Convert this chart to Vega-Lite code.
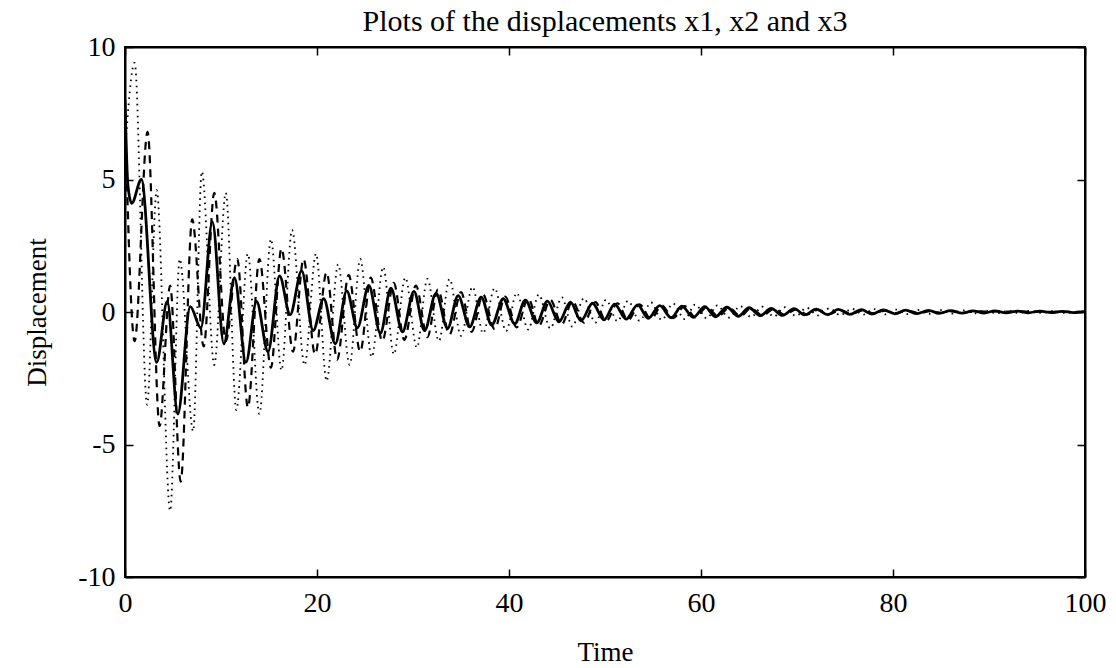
{
  "$schema": "https://vega.github.io/schema/vega-lite/v6.json",
  "width": 960,
  "height": 530,
  "autosize": {"type": "none"},
  "padding": {"left": 125, "top": 47, "right": 31, "bottom": 91},
  "background": "white",
  "title": {
    "text": "Plots of the displacements x1, x2 and x3",
    "font": "Liberation Serif",
    "fontSize": 30,
    "fontWeight": "normal",
    "color": "black",
    "anchor": "middle",
    "offset": 10,
    "dy": 14
  },
  "config": {
    "view": {"stroke": "black", "strokeWidth": 2},
    "axis": {
      "labelFont": "Liberation Serif",
      "labelFontSize": 28,
      "labelColor": "black",
      "titleFont": "Liberation Serif",
      "titleFontSize": 27,
      "titleFontWeight": "normal",
      "titleColor": "black",
      "domainColor": "black",
      "domainWidth": 2,
      "tickColor": "black",
      "tickWidth": 1.5,
      "tickSize": -8,
      "grid": false,
      "labelExpr": "datum.value"
    }
  },
  "datasets": {
    "x1": [
      {"t": 0, "v": 8.0}, {"t": 0.3, "v": 4.8}, {"t": 0.7, "v": 4.1}, {"t": 1.7, "v": 5.0},
      {"t": 3.3, "v": -1.9}, {"t": 4.4, "v": 0.4}, {"t": 5.5, "v": -3.85}, {"t": 6.8, "v": 0.2},
      {"t": 7.9, "v": -0.6}, {"t": 9.1, "v": 3.4}, {"t": 10.3, "v": -1.2}, {"t": 11.4, "v": 1.3},
      {"t": 12.6, "v": -1.9}, {"t": 13.7, "v": 0.4}, {"t": 14.9, "v": -1.5}, {"t": 16.1, "v": 1.36},
      {"t": 17.2, "v": -0.1}, {"t": 18.4, "v": 1.55}, {"t": 19.6, "v": -0.7}, {"t": 20.7, "v": 0.5},
      {"t": 21.9, "v": -1.2}, {"t": 23.1, "v": 0.8}, {"t": 24.2, "v": -0.6}, {"t": 25.4, "v": 1.0},
      {"t": 26.6, "v": -0.8}, {"t": 27.7, "v": 0.9}, {"t": 28.9, "v": -0.75}, {"t": 30.1, "v": 0.78},
      {"t": 31.2, "v": -0.7}, {"t": 32.4, "v": 0.7}, {"t": 33.6, "v": -0.62}, {"t": 34.7, "v": 0.62},
      {"t": 35.9, "v": -0.56}, {"t": 37.1, "v": 0.56}, {"t": 38.2, "v": -0.5}, {"t": 39.4, "v": 0.5},
      {"t": 40.6, "v": -0.45}, {"t": 41.7, "v": 0.45}, {"t": 42.9, "v": -0.41}, {"t": 44.0, "v": 0.41},
      {"t": 45.2, "v": -0.37}, {"t": 46.4, "v": 0.37}, {"t": 47.5, "v": -0.33}, {"t": 48.7, "v": 0.33},
      {"t": 49.9, "v": -0.3}, {"t": 51.0, "v": 0.3}, {"t": 52.2, "v": -0.27}, {"t": 53.4, "v": 0.27},
      {"t": 54.5, "v": -0.24}, {"t": 55.7, "v": 0.24}, {"t": 56.9, "v": -0.22}, {"t": 58.0, "v": 0.22},
      {"t": 59.2, "v": -0.2}, {"t": 60.4, "v": 0.2}, {"t": 61.5, "v": -0.18}, {"t": 62.7, "v": 0.18},
      {"t": 63.9, "v": -0.16}, {"t": 65.0, "v": 0.16}, {"t": 66.2, "v": -0.14}, {"t": 67.3, "v": 0.14},
      {"t": 68.5, "v": -0.13}, {"t": 69.7, "v": 0.13}, {"t": 70.8, "v": -0.11}, {"t": 72.0, "v": 0.11},
      {"t": 73.2, "v": -0.1}, {"t": 74.3, "v": 0.1}, {"t": 75.5, "v": -0.09}, {"t": 76.7, "v": 0.09},
      {"t": 77.8, "v": -0.08}, {"t": 79.0, "v": 0.08}, {"t": 80.2, "v": -0.07}, {"t": 81.3, "v": 0.07},
      {"t": 82.5, "v": -0.06}, {"t": 83.7, "v": 0.06}, {"t": 84.8, "v": -0.05}, {"t": 86.0, "v": 0.05},
      {"t": 87.2, "v": -0.045}, {"t": 88.3, "v": 0.045}, {"t": 89.5, "v": -0.04}, {"t": 90.6, "v": 0.04},
      {"t": 91.8, "v": -0.035}, {"t": 93.0, "v": 0.035}, {"t": 94.1, "v": -0.03}, {"t": 95.3, "v": 0.03},
      {"t": 96.5, "v": -0.025}, {"t": 97.6, "v": 0.025}, {"t": 98.8, "v": -0.02}, {"t": 100, "v": 0.02}
    ],
    "x2": [
      {"t": 0, "v": 7.5}, {"t": 1.0, "v": -1.1}, {"t": 2.35, "v": 6.8}, {"t": 3.6, "v": -4.3},
      {"t": 4.7, "v": 1.0}, {"t": 5.8, "v": -6.4}, {"t": 7.0, "v": 3.5}, {"t": 8.2, "v": -1.3},
      {"t": 9.3, "v": 4.5}, {"t": 10.5, "v": -1.1}, {"t": 11.7, "v": 2.0}, {"t": 12.8, "v": -3.6},
      {"t": 14.0, "v": 2.0}, {"t": 15.2, "v": -2.1}, {"t": 16.3, "v": 2.4}, {"t": 17.5, "v": -1.5},
      {"t": 18.6, "v": 2.0}, {"t": 19.8, "v": -1.6}, {"t": 21.0, "v": 1.5}, {"t": 22.1, "v": -1.8},
      {"t": 23.3, "v": 1.4}, {"t": 24.5, "v": -1.5}, {"t": 25.6, "v": 1.3}, {"t": 26.8, "v": -1.1},
      {"t": 28.0, "v": 1.1}, {"t": 29.1, "v": -1.05}, {"t": 30.3, "v": 1.0}, {"t": 31.5, "v": -0.95},
      {"t": 32.6, "v": 0.85}, {"t": 33.8, "v": -0.85}, {"t": 35.0, "v": 0.75}, {"t": 36.1, "v": -0.75},
      {"t": 37.3, "v": 0.66}, {"t": 38.5, "v": -0.65}, {"t": 39.6, "v": 0.58}, {"t": 40.8, "v": -0.58},
      {"t": 42.0, "v": 0.52}, {"t": 43.1, "v": -0.52}, {"t": 44.3, "v": 0.46}, {"t": 45.5, "v": -0.46},
      {"t": 46.6, "v": 0.41}, {"t": 47.8, "v": -0.4}, {"t": 49.0, "v": 0.37}, {"t": 50.1, "v": -0.35},
      {"t": 51.3, "v": 0.33}, {"t": 52.4, "v": -0.31}, {"t": 53.6, "v": 0.29}, {"t": 54.8, "v": -0.27},
      {"t": 55.9, "v": 0.25}, {"t": 57.1, "v": -0.23}, {"t": 58.3, "v": 0.22}, {"t": 59.4, "v": -0.2},
      {"t": 60.6, "v": 0.19}, {"t": 61.8, "v": -0.17}, {"t": 62.9, "v": 0.16}, {"t": 64.1, "v": -0.15},
      {"t": 65.2, "v": 0.14}, {"t": 66.4, "v": -0.13}, {"t": 67.6, "v": 0.12}, {"t": 68.7, "v": -0.11},
      {"t": 69.9, "v": 0.1}, {"t": 71.1, "v": -0.09}, {"t": 72.2, "v": 0.085}, {"t": 73.4, "v": -0.08},
      {"t": 74.5, "v": 0.07}, {"t": 75.7, "v": -0.065}, {"t": 76.9, "v": 0.06}, {"t": 78.0, "v": -0.055},
      {"t": 79.2, "v": 0.05}, {"t": 80.3, "v": -0.045}, {"t": 81.5, "v": 0.04}, {"t": 82.7, "v": -0.035},
      {"t": 83.9, "v": 0.03}, {"t": 85.0, "v": -0.03}, {"t": 86.2, "v": 0.025}, {"t": 87.4, "v": -0.02},
      {"t": 88.5, "v": 0.02}, {"t": 100, "v": 0.0}
    ],
    "x3": [
      {"t": 0, "v": 6.0}, {"t": 1.0, "v": 9.4}, {"t": 2.3, "v": -3.5}, {"t": 3.3, "v": 4.6},
      {"t": 4.7, "v": -7.5}, {"t": 5.7, "v": 2.0}, {"t": 7.1, "v": -4.5}, {"t": 8.0, "v": 5.3},
      {"t": 9.3, "v": -2.0}, {"t": 10.5, "v": 4.5}, {"t": 11.6, "v": -3.7}, {"t": 12.8, "v": 2.2},
      {"t": 14.0, "v": -3.85}, {"t": 15.2, "v": 2.75}, {"t": 16.3, "v": -2.2}, {"t": 17.4, "v": 3.1},
      {"t": 18.7, "v": -2.0}, {"t": 19.9, "v": 2.2}, {"t": 21.0, "v": -2.6}, {"t": 22.2, "v": 1.8},
      {"t": 23.4, "v": -2.0}, {"t": 24.5, "v": 2.0}, {"t": 25.7, "v": -1.7}, {"t": 26.9, "v": 1.7},
      {"t": 28.0, "v": -1.6}, {"t": 29.2, "v": 1.3}, {"t": 30.4, "v": -1.35}, {"t": 31.5, "v": 1.25},
      {"t": 32.7, "v": -1.1}, {"t": 33.8, "v": 1.25}, {"t": 35.0, "v": -0.9}, {"t": 36.2, "v": 0.95},
      {"t": 37.3, "v": -0.8}, {"t": 38.5, "v": 0.9}, {"t": 39.7, "v": -0.72}, {"t": 40.8, "v": 0.72},
      {"t": 42.0, "v": -0.66}, {"t": 43.1, "v": 0.66}, {"t": 44.3, "v": -0.62}, {"t": 45.5, "v": 0.55},
      {"t": 46.6, "v": -0.55}, {"t": 47.8, "v": 0.52}, {"t": 49.0, "v": -0.4}, {"t": 50.1, "v": 0.46},
      {"t": 51.3, "v": -0.35}, {"t": 52.4, "v": 0.42}, {"t": 53.6, "v": -0.33}, {"t": 54.8, "v": 0.36},
      {"t": 55.9, "v": -0.3}, {"t": 57.1, "v": 0.32}, {"t": 58.3, "v": -0.27}, {"t": 59.4, "v": 0.28},
      {"t": 60.6, "v": -0.24}, {"t": 61.7, "v": 0.25}, {"t": 62.9, "v": -0.21}, {"t": 64.1, "v": 0.22},
      {"t": 65.2, "v": -0.19}, {"t": 66.4, "v": 0.2}, {"t": 67.6, "v": -0.17}, {"t": 68.7, "v": 0.18},
      {"t": 69.9, "v": -0.15}, {"t": 71.0, "v": 0.16}, {"t": 72.2, "v": -0.13}, {"t": 73.4, "v": 0.14},
      {"t": 74.5, "v": -0.12}, {"t": 75.7, "v": 0.12}, {"t": 76.9, "v": -0.1}, {"t": 78.0, "v": 0.11},
      {"t": 79.2, "v": -0.09}, {"t": 80.3, "v": 0.09}, {"t": 81.5, "v": -0.08}, {"t": 82.7, "v": 0.08},
      {"t": 83.9, "v": -0.07}, {"t": 85.0, "v": 0.07}, {"t": 86.2, "v": -0.06}, {"t": 87.3, "v": 0.06},
      {"t": 88.5, "v": -0.05}, {"t": 89.6, "v": 0.05}, {"t": 90.8, "v": -0.045}, {"t": 92.0, "v": 0.045},
      {"t": 93.1, "v": -0.04}, {"t": 94.3, "v": 0.04}, {"t": 95.5, "v": -0.035}, {"t": 96.6, "v": 0.035},
      {"t": 97.8, "v": -0.03}, {"t": 100, "v": 0.0}
    ],
    "frame": [
      {"t": 0, "v": -10}, {"t": 100, "v": 10}
    ]
  },
  "resolve": {"axis": {"x": "independent", "y": "independent"}},
  "layer": [
    {
      "data": {"name": "x3"},
      "mark": {"type": "line", "color": "black", "strokeWidth": 1.8, "strokeDash": [1.6, 4.4], "strokeCap": "butt", "interpolate": "monotone", "clip": true},
      "encoding": {
        "x": {"field": "t", "type": "quantitative", "scale": {"domain": [0, 100], "nice": false, "zero": false},
              "axis": {"orient": "bottom", "values": [0, 20, 40, 60, 80, 100], "title": "Time", "labelPadding": 20, "titlePadding": 22, "labelFlush": false}},
        "y": {"field": "v", "type": "quantitative", "scale": {"domain": [-10, 10], "nice": false, "zero": false},
              "axis": {"orient": "left", "values": [-10, -5, 0, 5, 10], "title": "Displacement", "labelPadding": 18, "titlePadding": 26, "labelFlush": false}}
      }
    },
    {
      "data": {"name": "x2"},
      "mark": {"type": "line", "color": "black", "strokeWidth": 2.2, "strokeDash": [8, 6], "interpolate": "monotone", "clip": true},
      "encoding": {
        "x": {"field": "t", "type": "quantitative", "axis": null},
        "y": {"field": "v", "type": "quantitative", "axis": null}
      }
    },
    {
      "data": {"name": "x1"},
      "mark": {"type": "line", "color": "black", "strokeWidth": 2.8, "interpolate": "monotone", "clip": true},
      "encoding": {
        "x": {"field": "t", "type": "quantitative", "axis": null},
        "y": {"field": "v", "type": "quantitative", "axis": null}
      }
    },
    {
      "data": {"name": "frame"},
      "mark": {"type": "point", "opacity": 0},
      "encoding": {
        "x": {"field": "t", "type": "quantitative",
              "axis": {"orient": "top", "values": [0, 20, 40, 60, 80, 100], "labels": false, "title": null}},
        "y": {"field": "v", "type": "quantitative",
              "axis": {"orient": "right", "values": [-10, -5, 0, 5, 10], "labels": false, "title": null}}
      }
    }
  ]
}
